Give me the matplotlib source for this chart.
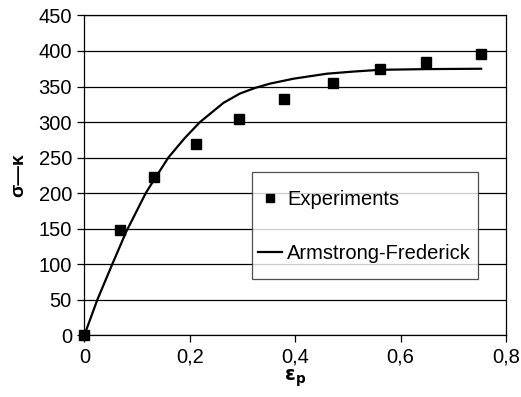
import numpy as np
import matplotlib.pyplot as plt
from matplotlib.lines import Line2D
from matplotlib.legend_handler import HandlerLine2D

plt.rcParams['font.family'] = ['Liberation Sans', 'DejaVu Sans']

# Measured hardening: plastic strain vs. sigma - kappa
eps_exp = [0.0, 0.068, 0.133, 0.211, 0.294, 0.379, 0.471, 0.561, 0.648, 0.753]
sig_exp = [0, 148, 222, 269, 304, 332, 355, 374.5, 385, 395.5]

# Armstrong-Frederick model curve
eps_af = [0.0, 0.0247, 0.053, 0.0797, 0.1165, 0.13, 0.1594, 0.19, 0.2195,
          0.264, 0.295, 0.324, 0.352, 0.397, 0.46, 0.51, 0.561, 0.65, 0.753]
sig_af = [0, 50, 100, 146, 200, 216, 250, 277, 300,
          327, 340, 348, 354, 361, 368, 371, 373.5, 374.5, 375]

x_ticks = [0, 0.2, 0.4, 0.6, 0.8]
x_ticklabels = ['0', '0,2', '0,4', '0,6', '0,8']
y_ticks = list(range(0, 451, 50))

LEG_FS = 14.5


def lower_handle(leg_line, orig):
    # tall handle boxes put the glyph above the text centre; pull it down
    leg_line.update_from(orig)
    leg_line.set_ydata(np.asarray(leg_line.get_ydata()) - 0.32 * LEG_FS)


fig = plt.figure(figsize=(5.21, 3.97), dpi=100)
ax = fig.add_axes([0.162, 0.156, 0.809, 0.805])

ax.plot(eps_af, sig_af, color='black', lw=1.6, label='Armstrong-Frederick',
        zorder=3)
ax.plot(eps_exp, sig_exp, linestyle='none', marker='s', ms=7.2,
        color='black', label='Experiments', zorder=4, clip_on=False)

ax.set_xlim(0, 0.8)
ax.set_ylim(0, 450)
ax.set_xticks(x_ticks)
ax.set_xticklabels(x_ticklabels)
ax.set_yticks(y_ticks)
ax.yaxis.grid(True, color='black', lw=0.9)
ax.set_axisbelow(True)
ax.tick_params(labelsize=14.5, length=5, width=0.9, direction='out', pad=4)
for s in ax.spines.values():
    s.set_linewidth(0.9)

ax.set_xlabel(r'$\mathbf{\varepsilon_p}$', fontsize=14, labelpad=1)
ax.set_ylabel('σ—κ', fontsize=14, fontweight='bold', labelpad=8)

handles, labels = ax.get_legend_handles_labels()
leg = ax.legend(handles[::-1], labels[::-1],
                loc='lower left', bbox_to_anchor=(0.398, 0.175, 0.536, 0.336),
                mode='expand', fontsize=LEG_FS, frameon=True, fancybox=False,
                edgecolor='#222222', labelspacing=0.7, borderpad=0.3,
                handleheight=2.7, handlelength=1.2, handletextpad=0.25,
                markerscale=0.75, borderaxespad=0,
                handler_map={Line2D: HandlerLine2D(update_func=lower_handle)})
leg.get_frame().set_linewidth(0.9)

fig.savefig('out.png', dpi=100)
